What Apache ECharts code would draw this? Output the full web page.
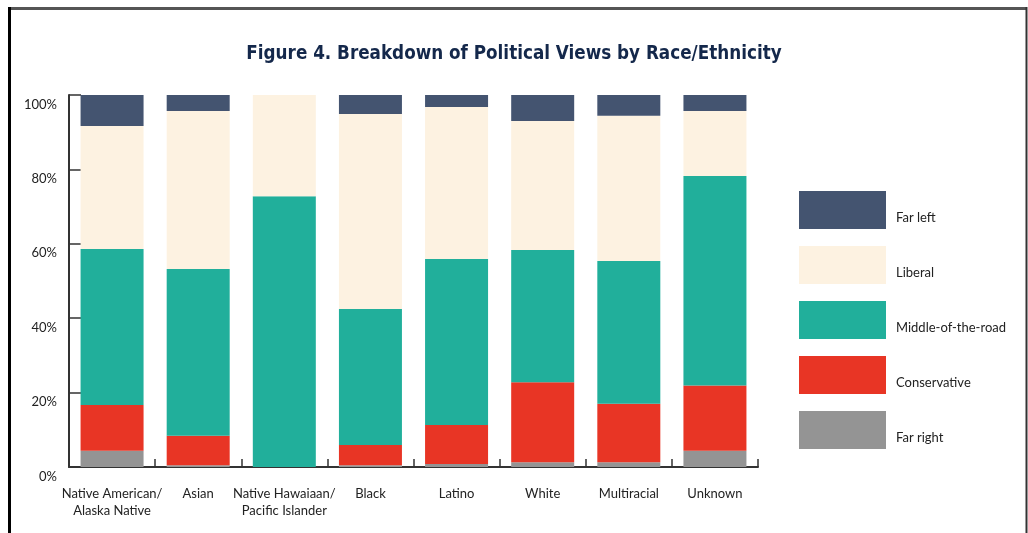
<!DOCTYPE html>
<html>
<head>
<meta charset="utf-8">
<script src="https://cdn.jsdelivr.net/npm/echarts@6/dist/echarts.min.js"></script>
<style>
html,body{margin:0;padding:0;background:#fff;}
#chart{width:1028px;height:533px;}
</style>
</head>
<body>
<div id="chart"></div>
<script>
const categories = ['Native American/\nAlaska Native','Asian','Native Hawaiaan/\nPacific Islander','Black','Latino','White','Multiracial','Unknown'];
const farRight     = [4.4, 0.5, 0,    0.5, 0.8, 1.3, 1.3, 4.4];
const conservative = [12.3, 7.9, 0,   5.4, 10.5, 21.5, 15.7, 17.5];
const middle       = [41.9, 44.8, 72.8, 36.6, 44.6, 35.5, 38.4, 56.3];
const liberal      = [33.1, 42.5, 27.2, 52.4, 40.9, 34.7, 39.0, 17.5];
const farLeft      = [8.3, 4.3, 0,    5.1, 3.2, 7.0, 5.6, 4.3];
const yTicks = ['0%','20%','40%','60%','80%','100%'];

const font = 'Lato, "Open Sans", sans-serif';
const chart = echarts.init(document.getElementById('chart'), null, {renderer:'canvas'});
function s(name, data, color){
  return {name, type:'bar', stack:'total', data, barWidth:63,
    itemStyle:{color}, emphasis:{disabled:true}};
}
chart.setOption({
  animation:false,
  title:{text:'Figure 4. Breakdown of Political Views by Race/Ethnicity', left:'center', top:40,
    textStyle:{fontFamily:'"Liberation Sans Narrow","DejaVu Sans Condensed",sans-serif', fontWeight:'bold', fontSize:18.7, color:'#14284B'}},
  legend:{orient:'vertical', left:799, top:191, padding:0, itemWidth:87, itemHeight:38, itemGap:17,
    icon:'rect',
    data:['Far left','Liberal','Middle-of-the-road','Conservative','Far right'],
    formatter:(name)=>'{t|' + name + '}',
    textStyle:{fontFamily:font, fontSize:13, color:'#222',
      rich:{t:{fontFamily:font, fontSize:13, color:'#222', padding:[16,0,0,5]}}}},
  grid:{left:69, right:270, top:95, bottom:66},
  xAxis:{type:'category', data:categories,
    axisLine:{lineStyle:{color:'#333', width:2}},
    axisTick:{show:true, inside:true, length:8, lineStyle:{color:'#333', width:1.5}},
    axisLabel:{fontFamily:font, fontSize:13, color:'#222', margin:18, lineHeight:17, interval:0}},
  yAxis:{type:'value', min:0, max:100, interval:20,
    axisLine:{show:true, lineStyle:{color:'#333', width:2}},
    axisTick:{show:true, inside:true, length:12, lineStyle:{color:'#333', width:1.5}},
    splitLine:{show:false},
    axisLabel:{fontFamily:font, fontSize:13, color:'#222', margin:12, verticalAlign:'top', padding:[3,0,0,0],
      formatter:(v)=>yTicks[Math.round(v/20)]}},
  series:[
    s('Far right', farRight, '#949494'),
    s('Conservative', conservative, '#E83525'),
    s('Middle-of-the-road', middle, '#21AF9B'),
    s('Liberal', liberal, '#FDF2E1'),
    s('Far left', farLeft, '#445470')
  ],
  graphic:[
    {type:'line', shape:{x1:8, y1:8.5, x2:1027, y2:8.5}, style:{stroke:'#555', lineWidth:3}},
    {type:'line', shape:{x1:9.5, y1:7, x2:9.5, y2:533}, style:{stroke:'#000', lineWidth:3}},
    {type:'line', shape:{x1:1026.5, y1:7, x2:1026.5, y2:533}, style:{stroke:'#333', lineWidth:2}}
  ]
});
</script>
</body>
</html>
